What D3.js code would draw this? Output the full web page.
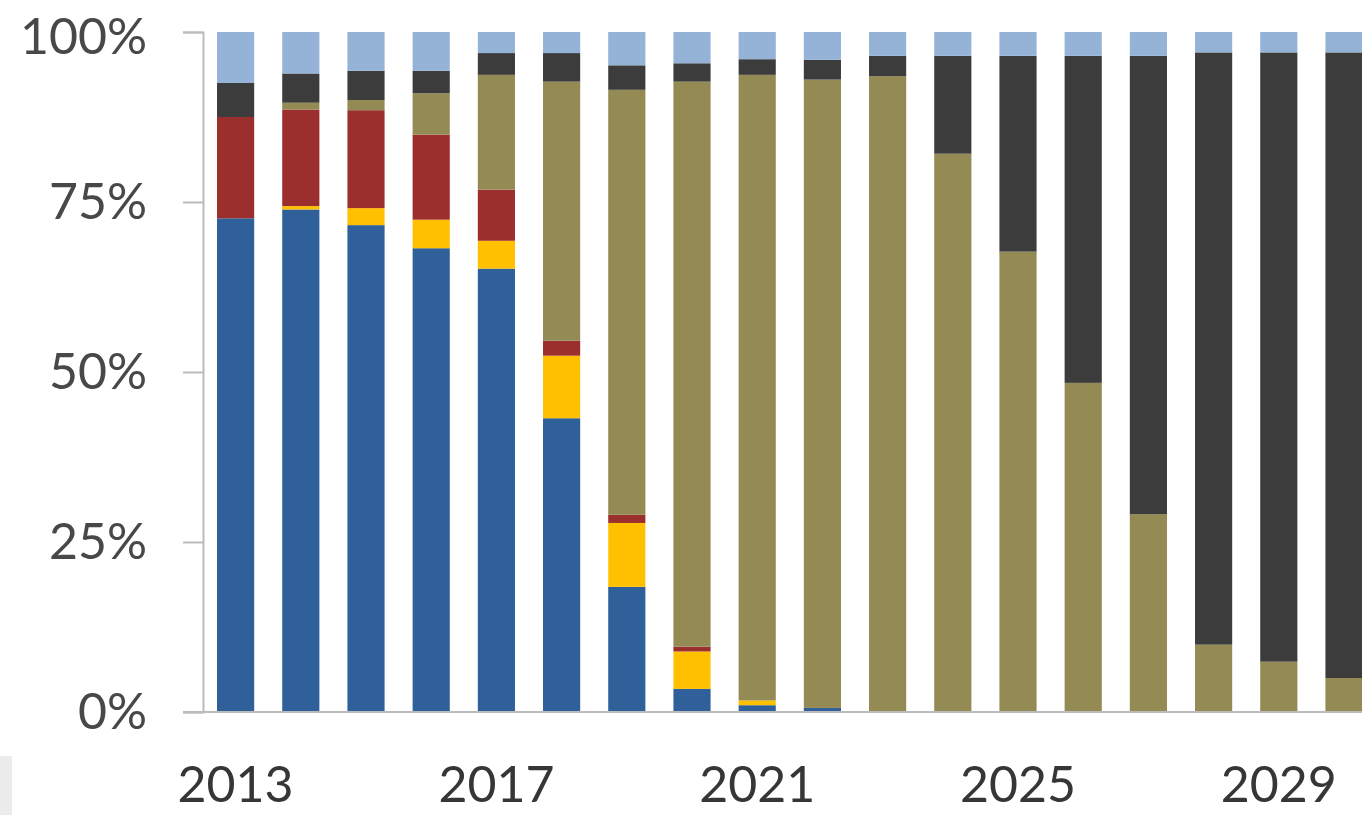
<!DOCTYPE html>
<html>
<head>
<meta charset="utf-8">
<script src="https://cdn.jsdelivr.net/npm/d3@7"></script>
<style>
  html, body { margin: 0; padding: 0; background: #fff; }
  svg { display: block; }
</style>
</head>
<body>
<svg id="chart" width="1362" height="815"></svg>
<script>
const years = [2013,2014,2015,2016,2017,2018,2019,2020,2021,2022,2023,2024,2025,2026,2027,2028,2029,2030];
const xTickLabels = [2013, 2017, 2021, 2025, 2029];
const yTickValues = [0, 25, 50, 75, 100];

const seriesBlue   = [72.6, 73.9, 71.6, 68.2, 65.2, 43.2, 18.4, 3.4, 1.0, 0.6, 0, 0, 0, 0, 0, 0, 0, 0];
const seriesYellow = [0, 0.5, 2.5, 4.2, 4.1, 9.2, 9.4, 5.5, 0.7, 0, 0, 0, 0, 0, 0, 0, 0, 0];
const seriesRed    = [14.9, 14.2, 14.4, 12.5, 7.5, 2.2, 1.2, 0.7, 0, 0, 0, 0, 0, 0, 0, 0, 0, 0];
const seriesOlive  = [0, 1.0, 1.5, 6.1, 16.9, 38.1, 62.5, 83.1, 92.0, 92.4, 93.5, 82.1, 67.7, 48.4, 29.1, 9.9, 7.4, 5.0];
const seriesDark   = [5.0, 4.3, 4.3, 3.3, 3.2, 4.2, 3.6, 2.7, 2.3, 2.9, 3.0, 14.4, 28.8, 48.1, 67.4, 87.1, 89.6, 92.0];
const seriesLight  = [7.5, 6.1, 5.7, 5.7, 3.1, 3.1, 4.9, 4.6, 4.0, 4.1, 3.5, 3.5, 3.5, 3.5, 3.5, 3.0, 3.0, 3.0];

const keys = ["blue", "yellow", "red", "olive", "dark", "light"];
const colors = {
  blue: "#2f6099", yellow: "#ffc000", red: "#9a2f2e",
  olive: "#948a54", dark: "#3c3c3c", light: "#95b3d7"
};

const table = years.map((y, i) => ({
  year: y,
  blue: seriesBlue[i], yellow: seriesYellow[i], red: seriesRed[i],
  olive: seriesOlive[i], dark: seriesDark[i], light: seriesLight[i]
}));

const svg = d3.select("#chart");

const x = d3.scaleBand()
  .domain(years)
  .range([203, 1376.6])
  .paddingInner(0.43)
  .paddingOuter(0.215);

const y = d3.scaleLinear().domain([0, 100]).range([712, 32]);

const stacked = d3.stack().keys(keys)(table);

// faint artifact box lower-left
svg.append("rect").attr("x", 0).attr("y", 756).attr("width", 12).attr("height", 59).attr("fill", "#ececec");

svg.append("g")
  .selectAll("g")
  .data(stacked)
  .join("g")
  .attr("fill", d => colors[d.key])
  .selectAll("rect")
  .data(d => d)
  .join("rect")
  .attr("x", d => x(d.data.year))
  .attr("width", x.bandwidth())
  .attr("y", d => y(d[1]))
  .attr("height", d => Math.max(0, y(d[0]) - y(d[1])));

// Y axis
const yAxis = d3.axisLeft(y)
  .tickValues(yTickValues)
  .tickFormat(d => d + "%")
  .tickSize(20)
  .tickPadding(36);

const gy = svg.append("g").attr("transform", "translate(203,0)").call(yAxis);
gy.select(".domain").attr("stroke", "#bcbcbc").attr("stroke-width", 2);
gy.selectAll(".tick line").attr("stroke", "#bcbcbc").attr("stroke-width", 2);
gy.selectAll(".tick text")
  .attr("fill", "#484848")
  .style("font-family", "Lato, 'Open Sans', sans-serif")
  .style("font-size", "50px");
gy.selectAll(".tick text").filter(d => d === 100).attr("dy", "0.42em");

// X axis
const xAxis = d3.axisBottom(x)
  .tickValues(xTickLabels)
  .tickSize(0)
  .tickPadding(54);
const gx = svg.append("g").attr("transform", "translate(0,712)").call(xAxis);
gx.select(".domain").remove();
svg.append("line")
  .attr("x1", 183).attr("x2", 1362)
  .attr("y1", 712).attr("y2", 712)
  .attr("stroke", "#bcbcbc").attr("stroke-width", 2);
gx.selectAll(".tick text")
  .attr("fill", "#363636")
  .style("font-family", "Lato, 'Open Sans', sans-serif")
  .style("font-size", "50px");
</script>
</body>
</html>
